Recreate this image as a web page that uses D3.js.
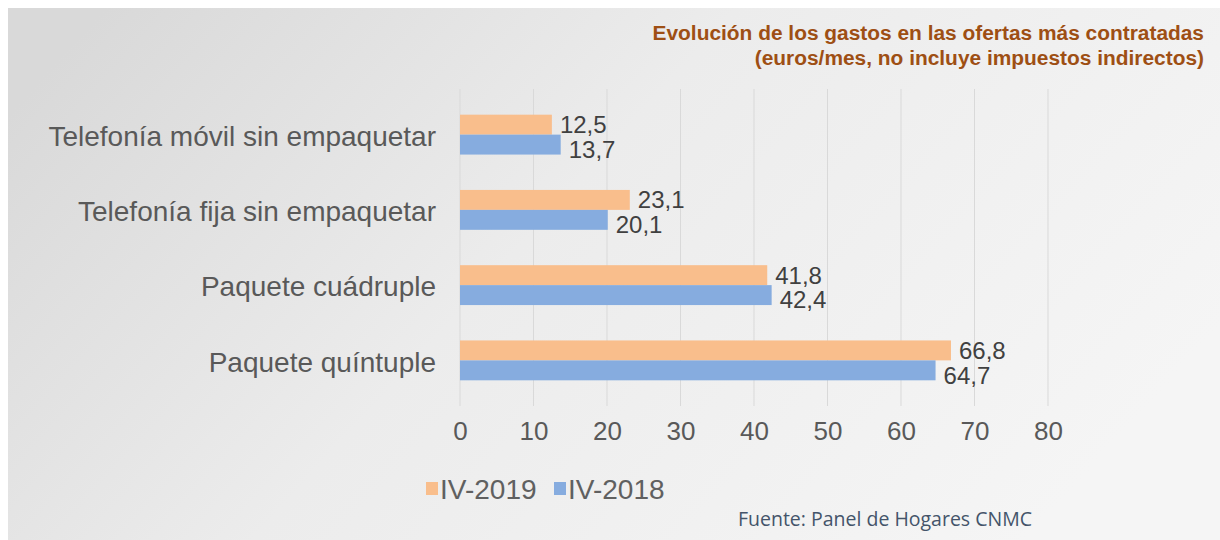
<!DOCTYPE html>
<html>
<head>
<meta charset="utf-8">
<script src="https://cdn.jsdelivr.net/npm/d3@7"></script>
<style>
  body { margin: 0; background: #fff; }
  svg { display: block; }
</style>
</head>
<body>
<div id="chart"></div>
<script>
const WIDTH = 1220;
const HEIGHT = 540;

const categories = [
    'Telefonía móvil sin empaquetar',
    'Telefonía fija sin empaquetar',
    'Paquete cuádruple',
    'Paquete quíntuple'
];
const seriesNames = ['IV-2019', 'IV-2018'];
const values2019 = [12.5, 23.1, 41.8, 66.8];
const values2018 = [13.7, 20.1, 42.4, 64.7];
const xTicks = [0, 10, 20, 30, 40, 50, 60, 70, 80];
const colors = ['#f9be8c', '#86acdf'];

const margin = { top: 97, left: 460, right: 172, bottom: 142 };
const plotW = WIDTH - margin.left - margin.right;
const plotH = HEIGHT - margin.top - margin.bottom;

const svg = d3.select('#chart')
    .append('svg')
    .attr('width', WIDTH)
    .attr('height', HEIGHT)

// background gradient
const defs = svg.append('defs');
const grad = defs.append('linearGradient')
    .attr('id', 'bg')
    .attr('x1', '0').attr('y1', '0.2')
    .attr('x2', '1').attr('y2', '0.6');
grad.append('stop').attr('offset', '0').attr('stop-color', '#d9d9d9');
grad.append('stop').attr('offset', '0.45').attr('stop-color', '#ececec');
grad.append('stop').attr('offset', '1').attr('stop-color', '#f5f5f5');

svg.append('rect')
    .attr('x', 8).attr('y', 8)
    .attr('width', WIDTH - 8).attr('height', HEIGHT - 8)
    .attr('fill', 'url(#bg)');

const x = d3.scaleLinear().domain([0, 80]).range([0, plotW]);
const y = d3.scaleBand().domain(categories).range([0, plotH]).paddingInner(0.47).paddingOuter(0.235);
const ySub = d3.scaleBand().domain(seriesNames).range([0, y.bandwidth()]);

const g = svg.append('g').attr('transform', `translate(${margin.left},${margin.top})`);

// grid lines
g.selectAll('line.grid')
    .data(xTicks)
    .enter()
    .append('line')
    .attr('class', 'grid')
    .attr('x1', d => x(d)).attr('x2', d => x(d))
    .attr('y1', -8).attr('y2', plotH + 8)
    .attr('stroke', '#d9d9d9')
    .attr('stroke-width', 1);

// x axis labels
const xAxis = d3.axisBottom(x).tickValues(xTicks).tickSize(0).tickPadding(0);
const ax = g.append('g')
    .attr('transform', `translate(0,${plotH + 24})`)
    .call(xAxis);
ax.select('.domain').remove();
ax.selectAll('text')
    .attr('font-family', 'Liberation Sans, Arial, sans-serif')
    .attr('font-size', 26)
    .attr('fill', '#595959')
    .attr('dy', '0.71em');

// category labels
const yAxis = d3.axisLeft(y).tickSize(0).tickPadding(24);
const ay = g.append('g').call(yAxis);
ay.select('.domain').remove();
ay.selectAll('text')
    .attr('font-family', 'Liberation Sans, Arial, sans-serif')
    .attr('font-size', 28)
    .attr('fill', '#595959')
    .attr('dy', '0.4em');

const rows = categories.map((c, i) => ({ cat: c, vals: [values2019[i], values2018[i]] }));

const group = g.selectAll('g.row')
    .data(rows)
    .enter()
    .append('g')
    .attr('class', 'row')
    .attr('transform', d => `translate(0,${y(d.cat)})`);

group.selectAll('rect')
    .data(d => d.vals.map((v, j) => ({ s: seriesNames[j], v: v, j: j })))
    .enter()
    .append('rect')
    .attr('x', 0)
    .attr('y', d => ySub(d.s))
    .attr('width', d => x(d.v))
    .attr('height', ySub.bandwidth())
    .attr('fill', d => colors[d.j]);

group.selectAll('text')
    .data(d => d.vals.map((v, j) => ({ s: seriesNames[j], v: v, j: j })))
    .enter()
    .append('text')
    .text(d => d3.format('.1f')(d.v).replace('.', ','))
    .attr('x', d => x(d.v) + 8)
    .attr('y', d => ySub(d.s) + ySub.bandwidth() / 2 + (d.j === 0 ? 0 : 5))
    .attr('dy', '0.35em')
    .attr('font-family', 'Liberation Sans, Arial, sans-serif')
    .attr('font-size', 24)
    .attr('fill', '#404040');

// title
const title = svg.append('text')
    .attr('text-anchor', 'end')
    .attr('font-family', 'Liberation Sans, Arial, sans-serif')
    .attr('font-weight', 'bold')
    .attr('font-size', 20.9)
    .attr('fill', '#9e4f14');
title.append('tspan').attr('x', 1204).attr('y', 40).text('Evolución de los gastos en las ofertas más contratadas');
title.append('tspan').attr('x', 1204).attr('y', 65).text('(euros/mes, no incluye impuestos indirectos)');

// legend
const legend = svg.append('g').attr('transform', 'translate(426,489)');
const li = legend.selectAll('g')
    .data(seriesNames)
    .enter()
    .append('g')
    .attr('transform', (d, i) => `translate(${i * 128},0)`);
li.append('rect')
    .attr('x', 0).attr('y', -7)
    .attr('width', 12).attr('height', 13)
    .attr('fill', (d, i) => colors[i]);
li.append('text')
    .text(d => d)
    .attr('x', 14)
    .attr('dy', '0.36em')
    .attr('font-family', 'Liberation Sans, Arial, sans-serif')
    .attr('font-size', 28)
    .attr('fill', '#606060');

// source
svg.append('text')
    .attr('x', 1032).attr('y', 526)
    .attr('text-anchor', 'end')
    .attr('font-family', 'Open Sans, Noto Sans, sans-serif')
    .attr('font-size', 19.5)
    .attr('fill', '#44546a')
    .text('Fuente: Panel de Hogares CNMC');
</script>
</body>
</html>
